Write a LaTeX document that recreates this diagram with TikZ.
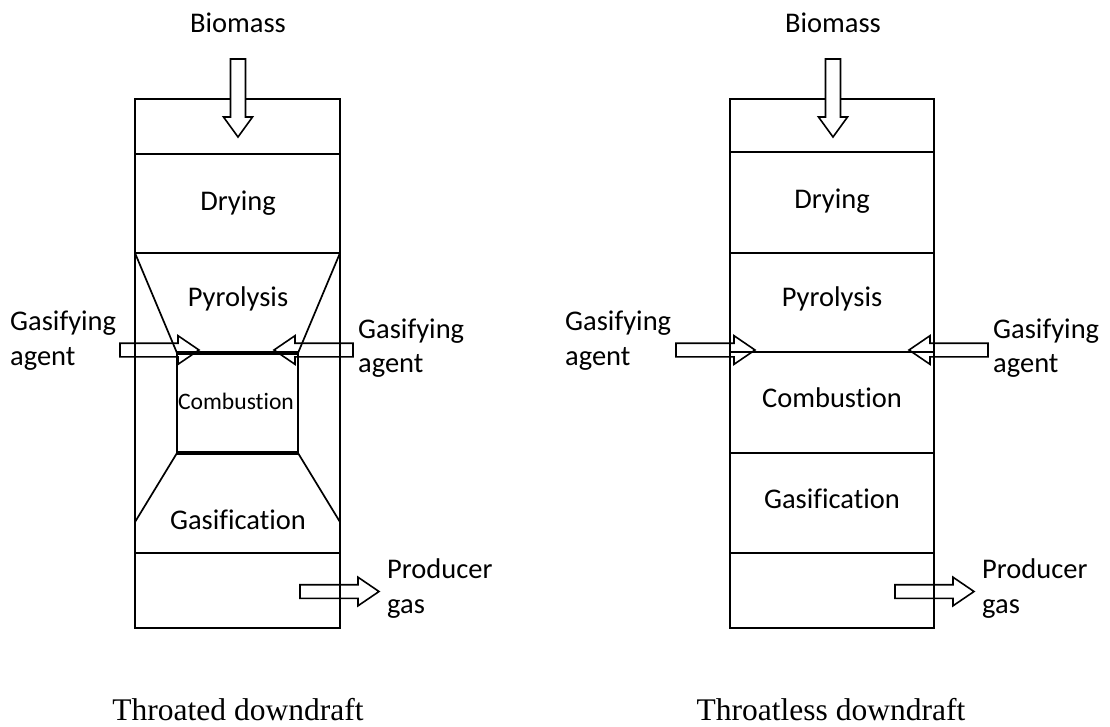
\documentclass[tikz,border=0pt]{standalone}
\usepackage{fontspec}
\setmainfont{Carlito}[Ligatures={NoCommon}]
\newfontfamily\capfont{Liberation Serif}
\tikzset{
  wall/.style={line width=1.7pt, line join=miter},
  thick wall/.style={line width=2.6pt},
  throatline/.style={line width=3.4pt},
  blk/.style={line width=1.6pt, line join=miter},
  lbl/.style={font=\fontsize{28.5}{34}\selectfont, inner sep=0pt, anchor=base},
  lbll/.style={lbl, anchor=base west},
  smalllbl/.style={font=\fontsize{23.6}{28}\selectfont, inner sep=0pt, anchor=base},
  captxt/.style={font=\capfont\fontsize{31.5}{36}\selectfont, inner sep=0pt, anchor=base},
  rarrow/.pic={\draw[blk] (0,-6.8)--(58,-6.8)--(58,-14.3)--(79,0)--(58,14.3)--(58,6.8)--(0,6.8)--cycle;},
  darrow/.pic={\draw[blk, fill=white] (-7.5,0)--(-7.5,58)--(-14.5,58)--(0,78)--(14.5,58)--(7.5,58)--(7.5,0)--cycle;}
}
\begin{document}
\begin{tikzpicture}[x=1pt, y=-1pt]
\useasboundingbox (0,0) rectangle (1110,726);

% ---------- Throated downdraft ----------
\draw[wall] (135,99) rectangle (340,628);
\draw[wall] (135,154) -- (340,154);
\draw[thick wall] (135,253) -- (340,253);
\draw[wall] (135,253) -- (177,353);
\draw[wall] (340,253) -- (298,353);
\draw[throatline] (177,353) -- (298,353);
\draw[wall] (177,353) -- (177,453);
\draw[wall] (298,353) -- (298,453);
\draw[throatline] (177,453) -- (298,453);
\draw[wall] (177,453) -- (135,522);
\draw[wall] (298,453) -- (340,522);
\draw[wall] (135,553) -- (340,553);

\pic at (238,59) {darrow};
\pic at (120,350) {rarrow};
\pic[xscale=-1] at (353,350) {rarrow};
\pic at (300,591.5) {rarrow};

\node[lbl] (bioA) at (238,32) {Biomass};
\node[lbl] (dryA) at (238,210) {Drying};
\node[lbl] (pyrA) at (238,306) {Pyrolysis};
\node[smalllbl] (comA) at (236,409) {Combustion};
\node[lbl] (gasA) at (238,529) {Gasification};
\node[lbll] (gaLA1) at (10,330) {Gasifying};
\node[lbll] (gaLA2) at (10,365) {agent};
\node[lbll] (gaRA1) at (358,338) {Gasifying};
\node[lbll] (gaRA2) at (358,372) {agent};
\node[lbll] (prA1) at (387,578) {Producer};
\node[lbll] (prA2) at (387,613) {gas};
\node[captxt] (capA) at (238,720) {Throated downdraft};

% ---------- Throatless downdraft ----------
\draw[wall] (730,99) rectangle (934,628);
\draw[wall] (730,152) -- (934,152);
\draw[wall] (730,253) -- (934,253);
\draw[thick wall] (730,352) -- (934,352);
\draw[wall] (730,453) -- (934,453);
\draw[wall] (730,553) -- (934,553);

\pic at (833,59) {darrow};
\pic at (676,350) {rarrow};
\pic[xscale=-1] at (988,350) {rarrow};
\pic at (895,591.5) {rarrow};

\node[lbl] (bioB) at (833,32) {Biomass};
\node[lbl] (dryB) at (832,208) {Drying};
\node[lbl] (pyrB) at (832,306) {Pyrolysis};
\node[lbl] (comB) at (832,407) {Combustion};
\node[lbl] (gasB) at (832,508) {Gasification};
\node[lbll] (gaLB1) at (565,330) {Gasifying};
\node[lbll] (gaLB2) at (565,365) {agent};
\node[lbll] (gaRB1) at (993,338) {Gasifying};
\node[lbll] (gaRB2) at (993,372) {agent};
\node[lbll] (prB1) at (982,578) {Producer};
\node[lbll] (prB2) at (982,613) {gas};
\node[captxt] (capB) at (831,720) {Throatless downdraft};
\end{tikzpicture}
\end{document}
